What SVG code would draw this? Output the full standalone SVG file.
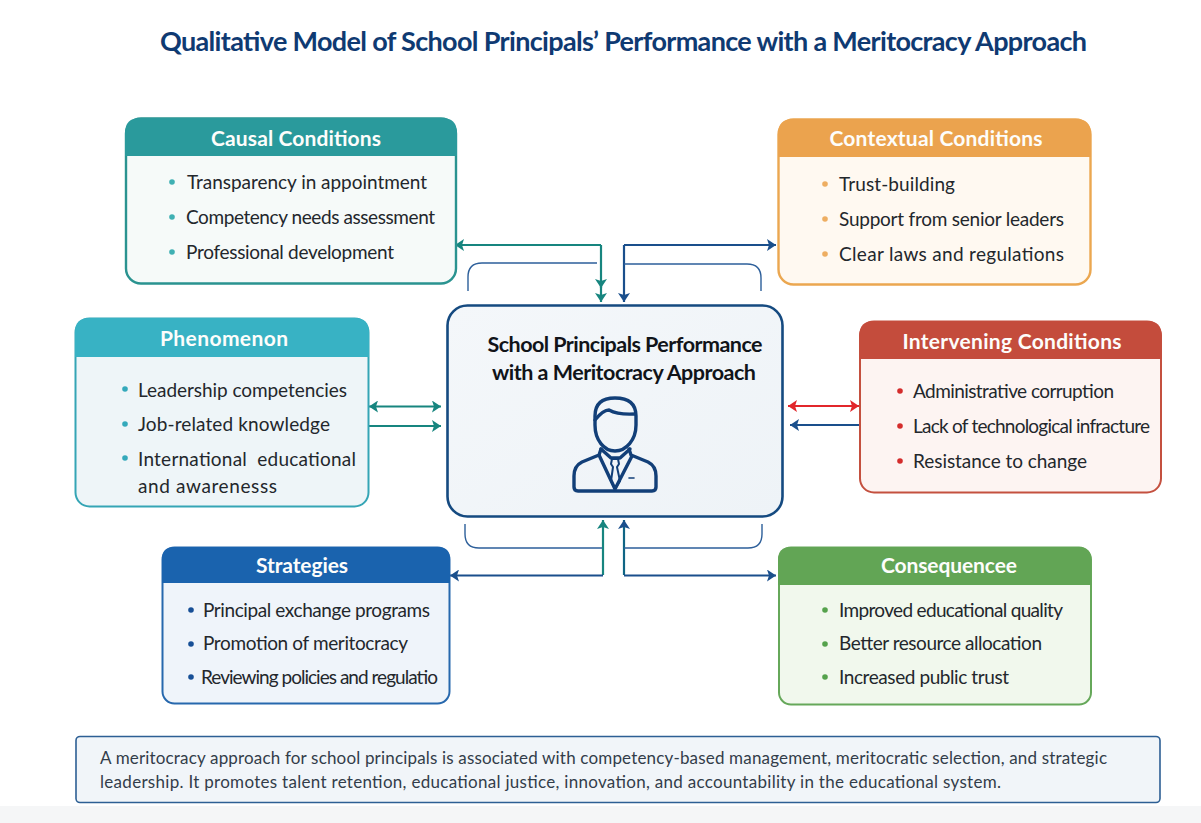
<svg xmlns="http://www.w3.org/2000/svg" width="1201" height="823" viewBox="0 0 1201 823">
<style>
text{font-family:"Lato","Open Sans",sans-serif}
.title{font-size:27px;font-weight:700;fill:#0f3a72}
.hd{font-size:21px;font-weight:700;fill:#fdfdfb;text-anchor:middle}
.it{font-size:19px;fill:#23272c}
.ct{font-size:21.5px;font-weight:700;fill:#111419;text-anchor:middle}
.ft{font-size:17px;fill:#333d4a}
.thin{fill:none;stroke:#2d5f9a;stroke-width:1.4}
.cn{fill:none;stroke-width:2.2}
.ic{fill:none;stroke:#123f78;stroke-width:3.4;stroke-linejoin:round;stroke-linecap:round}
</style>
<defs>
<marker id="t" markerUnits="userSpaceOnUse" markerWidth="10" markerHeight="12" refX="9" refY="6" orient="auto-start-reverse"><path d="M0 0L9 6L0 12L2 6Z" fill="#17857f"/></marker>
<marker id="b" markerUnits="userSpaceOnUse" markerWidth="10" markerHeight="12" refX="9" refY="6" orient="auto-start-reverse"><path d="M0 0L9 6L0 12L2 6Z" fill="#1a4f8c"/></marker>
<marker id="r" markerUnits="userSpaceOnUse" markerWidth="10" markerHeight="12" refX="9" refY="6" orient="auto-start-reverse"><path d="M0 0L9 6L0 12L2 6Z" fill="#e2262b"/></marker>
<linearGradient id="g1" x1="0" y1="0" x2="1" y2="1"><stop offset="0" stop-color="#f4f7fa"/><stop offset="1" stop-color="#eef3f7"/></linearGradient>
</defs>
<rect width="1201" height="823" fill="#fff"/>
<rect y="806" width="1201" height="17" fill="#f5f6f7"/>
<text class="title" x="160" y="51" textLength="927">Qualitative Model of School Principals’ Performance with a Meritocracy Approach</text>

<g id="connectors">
<path class="cn" stroke="#17857f" d="M601 245H455" marker-end="url(#t)"/>
<path class="cn" stroke="#17857f" d="M601 245V288" marker-end="url(#t)"/>
<path class="cn" stroke="#17857f" d="M601 285V302" marker-end="url(#t)"/>
<path class="cn" stroke="#1a4f8c" d="M624 245H776" marker-end="url(#b)"/>
<path class="cn" stroke="#1a4f8c" d="M624 245V302" marker-end="url(#b)"/>
<path class="thin" d="M597 263H482Q468 263 468 277V291"/>
<path class="thin" d="M624 264H747Q761 264 761 278V291"/>
<path class="cn" stroke="#17857f" d="M603 575V520" marker-end="url(#t)"/>
<path class="cn" stroke="#1a4f8c" d="M603 575.500H450" marker-end="url(#b)"/>
<path class="cn" stroke="#0f6584" d="M624 575V520" marker-end="url(#b)"/>
<path class="cn" stroke="#1a4f8c" d="M624 575.500H776" marker-end="url(#b)"/>
<path class="thin" d="M465 524V534Q465 548 479 548H602"/>
<path class="thin" d="M624 548H748Q762 548 762 534V524"/>
<path class="cn" stroke="#17857f" d="M369 406.500H441" marker-start="url(#t)" marker-end="url(#t)"/>
<path class="cn" stroke="#17857f" d="M369 426H441" marker-end="url(#t)"/>
<path class="cn" stroke="#e2262b" d="M788 406H859" marker-start="url(#r)" marker-end="url(#r)"/>
<path class="cn" stroke="#1a4f8c" d="M859 425H790" marker-end="url(#b)"/>
</g>

<g id="causal">
<rect x="126" y="118.500" width="330" height="165" rx="15" fill="#f6faf9" stroke="#2a9390" stroke-width="2.400"/>
<path d="M125 156V133Q125 118 140 118H442Q457 118 457 133V156Z" fill="#2a9a9c"/>
<text class="hd" x="296" y="146" textLength="170">Causal Conditions</text>
<circle cx="172" cy="182" r="2.800" fill="#3fb0b3"/><circle cx="172" cy="217" r="2.800" fill="#3fb0b3"/><circle cx="172" cy="252" r="2.800" fill="#3fb0b3"/>
<text class="it" x="187" y="189" textLength="240">Transparency in appointment</text>
<text class="it" x="186" y="224" textLength="249">Competency needs assessment</text>
<text class="it" x="186" y="259" textLength="208">Professional development</text>
</g>

<g id="contextual">
<rect x="778.500" y="119.500" width="312" height="165" rx="15" fill="#fff9f1" stroke="#eba750" stroke-width="2.400"/>
<path d="M778 157V134Q778 119 793 119H1076Q1091 119 1091 134V157Z" fill="#eba34e"/>
<text class="hd" x="936" y="146" textLength="213">Contextual Conditions</text>
<circle cx="825" cy="184" r="2.800" fill="#eeae62"/><circle cx="825" cy="219" r="2.800" fill="#eeae62"/><circle cx="825" cy="254" r="2.800" fill="#eeae62"/>
<text class="it" x="839" y="191" textLength="116">Trust-building</text>
<text class="it" x="839" y="226" textLength="225">Support from senior leaders</text>
<text class="it" x="839" y="261" textLength="225">Clear laws and regulations</text>
</g>

<g id="phenomenon">
<rect x="75.500" y="318.500" width="293" height="188" rx="14" fill="#eef5f8" stroke="#35a5b5" stroke-width="2"/>
<path d="M75 357V332Q75 318 89 318H355Q369 318 369 332V357Z" fill="#38b2c4"/>
<text class="hd" x="224" y="346" textLength="128">Phenomenon</text>
<circle cx="125" cy="389" r="2.800" fill="#34a9bb"/><circle cx="125" cy="424" r="2.800" fill="#34a9bb"/><circle cx="125" cy="458" r="2.800" fill="#34a9bb"/>
<text class="it" x="138" y="397" textLength="209">Leadership competencies</text>
<text class="it" x="138" y="431" textLength="192">Job-related knowledge</text>
<text class="it" x="138" y="466" textLength="218" xml:space="preserve">International  educational</text>
<text class="it" x="138" y="493" textLength="139">and awarenesss</text>
</g>

<g id="intervening">
<rect x="860" y="321.500" width="301" height="171" rx="14" fill="#fdf4f2" stroke="#c4503f" stroke-width="2"/>
<path d="M859.500 359V335Q859.500 321 873.500 321H1147.500Q1161.500 321 1161.500 335V359Z" fill="#c44c3c"/>
<text class="hd" x="1012" y="349" textLength="219">Intervening Conditions</text>
<circle cx="900" cy="391" r="2.800" fill="#d42c2c"/><circle cx="900" cy="426" r="2.800" fill="#d42c2c"/><circle cx="900" cy="461" r="2.800" fill="#d42c2c"/>
<text class="it" x="913" y="398" textLength="201">Administrative corruption</text>
<text class="it" x="913" y="433" textLength="237">Lack of technological infracture</text>
<text class="it" x="913" y="468" textLength="174">Resistance to change</text>
</g>

<g id="strategies">
<rect x="162.500" y="547.500" width="287" height="156" rx="12" fill="#eff4fa" stroke="#2768ad" stroke-width="2"/>
<path d="M162 583V559Q162 547 174 547H438Q450 547 450 559V583Z" fill="#1a63ae"/>
<text class="hd" x="302" y="573" textLength="92">Strategies</text>
<circle cx="191" cy="610" r="2.800" fill="#174f96"/><circle cx="191" cy="644" r="2.800" fill="#174f96"/><circle cx="191" cy="677" r="2.800" fill="#174f96"/>
<text class="it" x="203" y="617" textLength="227">Principal exchange programs</text>
<text class="it" x="203" y="650" textLength="205">Promotion of meritocracy</text>
<text class="it" x="201" y="684" textLength="237">Reviewing policies and regulatio</text>
</g>

<g id="consequence">
<rect x="779" y="547.500" width="312" height="157" rx="12" fill="#f1f8ed" stroke="#66a85a" stroke-width="2"/>
<path d="M778 585V560Q778 547 791 547H1078Q1091 547 1091 560V585Z" fill="#62a555"/>
<text class="hd" x="949" y="573" textLength="136">Consequencee</text>
<circle cx="825" cy="610" r="2.800" fill="#55a24c"/><circle cx="825" cy="644" r="2.800" fill="#55a24c"/><circle cx="825" cy="677" r="2.800" fill="#55a24c"/>
<text class="it" x="839" y="617" textLength="224">Improved educational quality</text>
<text class="it" x="839" y="650" textLength="203">Better resource allocation</text>
<text class="it" x="839" y="684" textLength="170">Increased public trust</text>
</g>

<g id="center">
<rect x="447.500" y="305.500" width="335" height="211" rx="20" fill="url(#g1)" stroke="#154a80" stroke-width="2.600"/>
<text class="ct" x="625" y="352" textLength="275">School Principals Performance</text>
<text class="ct" x="624" y="380" textLength="264">with a Meritocracy Approach</text>
<g class="ic">
<path d="M595 425V416Q595 398 615 398Q636 398 636 416V425C636 440 626 451 615 451C604 451 595 440 595 425Z"/>
<path d="M595 420Q603 410 609 410Q618 415 635 414"/>
<path d="M601 449L599 455L582 462Q574 466 574 476V487Q574 491 578 491H652Q656 491 656 487V476Q656 466 648 462L631 455L629 449"/>
<path d="M599 455L615 489L632 456"/>
<path d="M601 449L611 458L620 458L630 449"/>
<path d="M612 459L618 459L619 464L617 467L620 481L615 489L611 481L613 467L611 464Z" stroke-width="2"/>
<path d="M629 478H634" stroke-width="1.600"/>
</g>
</g>

<g id="summary">
<rect x="76" y="736.500" width="1084" height="66" rx="4" fill="#f1f5f9" stroke="#2d5f94" stroke-width="1.600"/>
<text class="ft" x="100" y="764" textLength="1007">A meritocracy approach for school principals is associated with competency-based management, meritocratic selection, and strategic</text>
<text class="ft" x="100" y="788" textLength="901">leadership. It promotes talent retention, educational justice, innovation, and accountability in the educational system.</text>
</g>
</svg>
